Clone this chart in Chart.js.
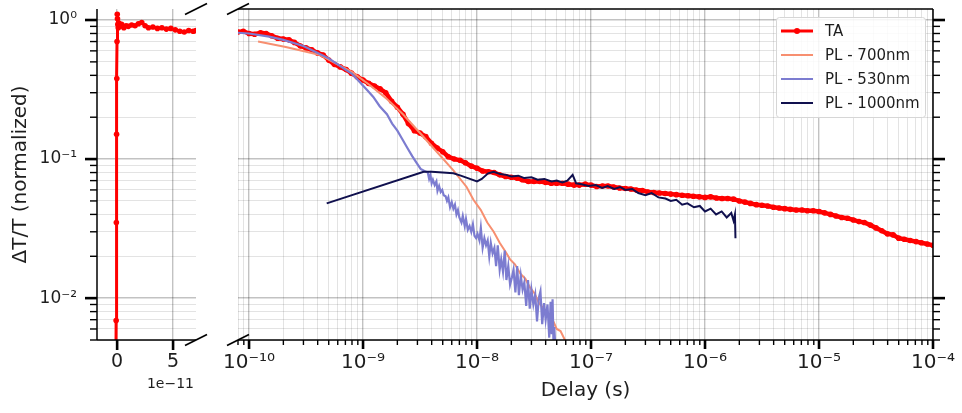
<!DOCTYPE html>
<html>
<head>
<meta charset="utf-8">
<script src="https://cdn.jsdelivr.net/npm/chart.js@4.4.1/dist/chart.umd.min.js"></script>
<style>
  html, body { margin: 0; padding: 0; background: #fff; }
  #wrap { position: relative; width: 962px; height: 413px; }
  #wrap canvas { position: absolute; left: 0; top: 0; }
</style>
</head>
<body>
<div id="wrap">
  <canvas id="chart-left" width="962" height="413"></canvas>
  <canvas id="chart-right" width="962" height="413"></canvas>
</div>
<script>
// Broken-axis plot: short linear window around t=0 on the left, log delay axis on the right.

// --- data (seconds, normalized dT/T) ---
const taZoomX = [-1.2e-12, -0.9e-12, -0.7e-12, -0.5e-12, -0.3e-12, -0.1e-12, 0.1e-12, 0.3e-12, 0.6e-12,
  1.0e-12, 1.5e-12, 2.5e-12, 4e-12, 6e-12, 8e-12, 1.0e-11, 1.3e-11, 1.6e-11, 1.9e-11, 2.2e-11, 2.5e-11,
  2.8e-11, 3.2e-11, 3.6e-11, 4.0e-11, 4.4e-11, 4.8e-11, 5.2e-11, 5.6e-11, 6.0e-11, 6.4e-11, 6.8e-11, 7.05e-11];
const taZoomY = [0.002, 0.0069, 0.035, 0.151, 0.38, 0.70, 1.10, 1.02, 0.93,
  0.88, 0.95, 0.90, 0.93, 0.88, 0.91, 0.90, 0.92, 0.91, 0.94, 0.96, 0.91,
  0.88, 0.89, 0.87, 0.88, 0.86, 0.87, 0.85, 0.83, 0.82, 0.84, 0.83, 0.84];

const taX = [8.0e-11, 8.9e-11, 1.0e-10, 1.12e-10, 1.26e-10, 1.41e-10, 1.58e-10, 1.78e-10, 2.0e-10, 2.24e-10,
  2.5e-10, 2.82e-10, 3.16e-10, 3.55e-10, 3.98e-10, 4.47e-10, 5.0e-10, 5.6e-10, 6.3e-10, 7.1e-10,
  7.9e-10, 8.9e-10, 1.0e-9, 1.12e-9, 1.26e-9, 1.41e-9, 1.58e-9, 1.78e-9, 2.0e-9, 2.24e-9,
  2.5e-9, 2.82e-9, 3.16e-9, 3.55e-9, 3.98e-9, 4.47e-9, 5.0e-9, 5.6e-9, 6.3e-9, 7.1e-9,
  7.9e-9, 8.9e-9, 1.0e-8, 1.12e-8, 1.26e-8, 1.41e-8, 1.58e-8, 1.78e-8, 2.0e-8, 2.24e-8,
  2.5e-8, 2.82e-8, 3.16e-8, 3.55e-8, 3.98e-8, 4.47e-8, 5.0e-8, 5.6e-8, 6.3e-8, 7.1e-8,
  7.9e-8, 8.9e-8, 1.0e-7, 1.12e-7, 1.26e-7, 1.41e-7, 1.58e-7, 1.78e-7, 2.0e-7, 2.24e-7,
  2.5e-7, 2.82e-7, 3.16e-7, 3.55e-7, 3.98e-7, 4.47e-7, 5.0e-7, 5.6e-7, 6.3e-7, 7.1e-7,
  7.9e-7, 8.9e-7, 1.0e-6, 1.12e-6, 1.26e-6, 1.41e-6, 1.58e-6, 1.78e-6, 2.0e-6, 2.24e-6,
  2.5e-6, 2.82e-6, 3.16e-6, 3.55e-6, 3.98e-6, 4.47e-6, 5.0e-6, 5.6e-6, 6.3e-6, 7.1e-6,
  7.9e-6, 8.9e-6, 1.0e-5, 1.12e-5, 1.26e-5, 1.41e-5, 1.58e-5, 1.78e-5, 2.0e-5, 2.24e-5,
  2.5e-5, 2.82e-5, 3.16e-5, 3.55e-5, 3.98e-5, 4.47e-5, 5.0e-5, 5.6e-5, 6.3e-5, 7.1e-5,
  7.9e-5, 8.9e-5, 1.0e-4];
const taY = [0.82, 0.83, 0.80, 0.79, 0.81, 0.80, 0.77, 0.74, 0.73, 0.72,
  0.69, 0.65, 0.63, 0.61, 0.58, 0.56, 0.515, 0.48, 0.46, 0.44,
  0.415, 0.39, 0.37, 0.35, 0.335, 0.32, 0.30, 0.26, 0.236, 0.21,
  0.18, 0.16, 0.154, 0.145, 0.13, 0.12, 0.113, 0.104, 0.10, 0.098,
  0.094, 0.089, 0.086, 0.082, 0.081, 0.080, 0.077, 0.075, 0.074, 0.073,
  0.071, 0.069, 0.069, 0.069, 0.068, 0.067, 0.067, 0.067, 0.066, 0.065,
  0.065, 0.066, 0.065, 0.0635, 0.064, 0.064, 0.063, 0.062, 0.0615, 0.061,
  0.060, 0.0595, 0.058, 0.0575, 0.057, 0.0565, 0.056, 0.0555, 0.055, 0.0545,
  0.054, 0.0535, 0.053, 0.0535, 0.0525, 0.052, 0.052, 0.0515, 0.050, 0.049,
  0.048, 0.047, 0.0465, 0.046, 0.045, 0.0445, 0.044, 0.0435, 0.043, 0.043,
  0.0425, 0.0425, 0.042, 0.041, 0.040, 0.039, 0.038, 0.0375, 0.0365, 0.0355,
  0.035, 0.0335, 0.032, 0.0305, 0.029, 0.0285, 0.027, 0.0265, 0.026, 0.0255,
  0.025, 0.0245, 0.024];

const pl700X = [1.2e-10, 2.1e-10, 4.2e-10, 8.1e-10, 1.15e-9, 1.62e-9, 2.24e-9, 3.16e-9, 4.47e-9, 6.2e-9,
  8.1e-9, 9.3e-9, 1.08e-8, 1.23e-8, 1.4e-8, 1.58e-8, 1.75e-8, 1.95e-8, 2.15e-8, 2.4e-8,
  2.65e-8, 2.9e-8, 3.2e-8, 3.5e-8, 3.8e-8, 4.2e-8, 4.6e-8, 5.0e-8, 5.4e-8, 5.9e-8, 6.5e-8];
const pl700Y = [0.70, 0.64, 0.56, 0.42, 0.34, 0.27, 0.21, 0.154, 0.112, 0.083,
  0.063, 0.051, 0.043, 0.035, 0.030, 0.025, 0.022, 0.019, 0.0175, 0.015,
  0.0138, 0.012, 0.0108, 0.0092, 0.0085, 0.0074, 0.0070, 0.0060, 0.0058, 0.0050, 0.0044];

const pl530X = [8.0e-11, 1.0e-10, 1.5e-10, 2.0e-10, 3.0e-10, 4.0e-10, 5.0e-10, 6.0e-10, 7.0e-10, 8.0e-10,
  9.3e-10, 1.1e-9, 1.23e-9, 1.4e-9, 1.62e-9, 1.8e-9, 2.0e-9, 2.2e-9, 2.45e-9, 2.7e-9,
  2.95e-9, 3.2e-9, 3.45e-9, 3.7e-9, 3.8e-9, 3.9e-9, 4.0e-9, 4.1e-9, 4.25e-9, 4.4e-9,
  4.5e-9, 4.65e-9, 4.8e-9, 4.95e-9, 5.1e-9, 5.3e-9, 5.45e-9, 5.6e-9, 5.8e-9, 6.0e-9,
  6.2e-9, 6.4e-9, 6.6e-9, 6.8e-9, 7.0e-9, 7.3e-9, 7.5e-9, 7.8e-9, 8.0e-9, 8.3e-9,
  8.6e-9, 8.9e-9, 9.2e-9, 9.5e-9, 9.8e-9, 1.01e-8, 1.05e-8, 1.08e-8, 1.12e-8, 1.16e-8,
  1.2e-8, 1.24e-8, 1.28e-8, 1.32e-8, 1.37e-8, 1.42e-8, 1.47e-8, 1.52e-8, 1.58e-8, 1.63e-8,
  1.69e-8, 1.75e-8, 1.81e-8, 1.88e-8, 1.95e-8, 2.02e-8, 2.09e-8, 2.17e-8, 2.25e-8, 2.33e-8,
  2.42e-8, 2.51e-8, 2.6e-8, 2.7e-8, 2.8e-8, 2.9e-8, 3.0e-8, 3.12e-8, 3.24e-8, 3.36e-8,
  3.48e-8, 3.6e-8, 3.73e-8, 3.87e-8, 4.0e-8, 4.15e-8, 4.3e-8, 4.42e-8, 4.52e-8, 4.6e-8,
  4.68e-8, 4.76e-8, 4.85e-8, 5.0e-8];
const pl530Y = [0.81, 0.80, 0.76, 0.72, 0.65, 0.58, 0.53, 0.48, 0.44, 0.41,
  0.36, 0.31, 0.28, 0.24, 0.21, 0.18, 0.16, 0.14, 0.12, 0.105,
  0.094, 0.085, 0.082,
  0.080, 0.072, 0.077, 0.067, 0.071, 0.065, 0.069, 0.059, 0.064, 0.058,
  0.060, 0.055, 0.054, 0.050, 0.053, 0.045, 0.049, 0.044, 0.047, 0.040,
  0.043, 0.038, 0.035, 0.039, 0.033, 0.037, 0.031, 0.033, 0.030, 0.034,
  0.028, 0.027, 0.029, 0.026, 0.032, 0.023, 0.027, 0.024, 0.026, 0.020,
  0.025, 0.021, 0.023, 0.017, 0.024, 0.016, 0.019, 0.0155, 0.022, 0.0135,
  0.017, 0.0125, 0.014, 0.016, 0.011, 0.017, 0.0105, 0.0145, 0.0115, 0.0130,
  0.0088, 0.0135, 0.0084, 0.0115, 0.0090, 0.0106, 0.0068, 0.0100, 0.0112, 0.0065,
  0.0092, 0.0070, 0.0090, 0.0052, 0.0094, 0.0055, 0.0098, 0.0049, 0.0062, 0.0046,
  0.0042];

const pl1000X = [4.8e-10, 3.4e-9, 4.0e-9, 5.0e-9, 6.2e-9, 7.2e-9, 8.3e-9, 1.0e-8, 1.1e-8, 1.25e-8,
  1.4e-8, 1.6e-8, 1.8e-8, 2.0e-8, 2.3e-8, 2.6e-8, 3.0e-8, 3.4e-8, 3.9e-8, 4.5e-8,
  5.0e-8, 5.6e-8, 6.2e-8, 6.9e-8, 7.4e-8, 8.3e-8, 9.5e-8, 1.1e-7, 1.25e-7, 1.4e-7,
  1.6e-7, 1.8e-7, 2.0e-7, 2.3e-7, 2.6e-7, 3.0e-7, 3.4e-7, 3.9e-7, 4.5e-7, 5.0e-7,
  5.6e-7, 6.3e-7, 7.0e-7, 8.0e-7, 9.0e-7, 1.0e-6, 1.12e-6, 1.25e-6, 1.4e-6, 1.55e-6,
  1.7e-6, 1.78e-6, 1.83e-6, 1.85e-6];
const pl1000Y = [0.048, 0.081, 0.081, 0.080, 0.079, 0.076, 0.073, 0.069, 0.072, 0.079,
  0.081, 0.078, 0.077, 0.075, 0.076, 0.073, 0.074, 0.071, 0.072, 0.069,
  0.070, 0.068, 0.070, 0.077, 0.067, 0.066, 0.064, 0.065, 0.062, 0.064,
  0.061, 0.063, 0.060, 0.061, 0.057, 0.055, 0.057, 0.053, 0.052, 0.050,
  0.051, 0.047, 0.048, 0.045, 0.046, 0.042, 0.044, 0.040, 0.042, 0.038,
  0.041, 0.036, 0.040, 0.027];

// --- axis ticks ---
const Y_MAJOR = [0.01, 0.1, 1];
const Y_LABELS = ["10\u207B\u00B2", "10\u207B\u00B9", "10\u2070"];
const Y_MINOR = [0.005, 0.006, 0.007, 0.008, 0.009, 0.02, 0.03, 0.04, 0.05, 0.06, 0.07, 0.08, 0.09,
  0.2, 0.3, 0.4, 0.5, 0.6, 0.7, 0.8, 0.9];
const X_MAJOR = [1e-10, 1e-9, 1e-8, 1e-7, 1e-6, 1e-5, 1e-4];
const X_LABELS = ["10\u207B\u00B9\u2070", "10\u207B\u2079", "10\u207B\u2078", "10\u207B\u2077",
  "10\u207B\u2076", "10\u207B\u2075", "10\u207B\u2074"];
const X_MINOR = [8e-11, 9e-11];
for (let d = -10; d <= -5; d++) {
  for (let m = 2; m <= 9; m++) X_MINOR.push(m * Math.pow(10, d));
}
const ZOOM_X_TICKS = [0, 5e-11];
const ZOOM_X_LABELS = ["0", "5"];

const COLORS = {
  ta: "#ff0000",
  pl700: "#f78f70",
  pl530: "#7c7cd0",
  pl1000: "#10104e",
};
const GRID_MAJOR = "rgba(0,0,0,0.24)";
const GRID_MINOR = "rgba(0,0,0,0.11)";
const TEXT = "#1e1e1e";

Chart.defaults.font.family = "'DejaVu Sans', sans-serif";
Chart.defaults.color = TEXT;

const pts = (xs, ys) => xs.map((x, i) => ({ x, y: ys[i] }));

function tickList(major, minor) {
  return major.map((v) => ({ value: v, major: true }))
    .concat(minor.map((v) => ({ value: v, major: false })))
    .sort((a, b) => a.value - b.value);
}

const gridOpts = {
  drawTicks: false,
  color: (c) => (c.tick && c.tick.major ? GRID_MAJOR : GRID_MINOR),
  lineWidth: (c) => (c.tick && c.tick.major ? 1.4 : 1),
};

function yScale(position, showLabels) {
  return {
    type: "logarithmic",
    position,
    min: 0.005,
    max: 1.2,
    afterBuildTicks: (s) => { s.ticks = tickList(Y_MAJOR, Y_MINOR); },
    ticks: {
      display: showLabels,
      autoSkip: false,
      padding: 20,
      font: { size: 17 },
      color: TEXT,
      callback: (v, i, t) => {
        const k = Y_MAJOR.indexOf(t[i].value);
        return k >= 0 ? Y_LABELS[k] : "";
      },
    },
    grid: gridOpts,
    border: { display: false },
  };
}

// spines, tick marks of two lengths, and the diagonal break marks
const axisDecor = {
  id: "axisDecor",
  afterDatasetsDraw(chart, args, opts) {
    const ctx = chart.ctx;
    const a = chart.chartArea;
    ctx.save();
    ctx.strokeStyle = "#000";
    ctx.lineCap = "butt";
    (opts.marks || []).forEach((m) => {
      const scale = chart.scales[m.scale];
      ctx.lineWidth = m.width;
      m.values.forEach((v) => {
        const p = scale.getPixelForValue(v);
        ctx.beginPath();
        if (m.side === "bottom") { ctx.moveTo(p, a.bottom); ctx.lineTo(p, a.bottom + m.len); }
        if (m.side === "left") { ctx.moveTo(a.left, p); ctx.lineTo(a.left - m.len, p); }
        if (m.side === "right") { ctx.moveTo(a.right, p); ctx.lineTo(a.right + m.len, p); }
        ctx.stroke();
      });
    });
    ctx.lineWidth = 1.5;
    (opts.spines || []).forEach((side) => {
      ctx.beginPath();
      if (side === "left") { ctx.moveTo(a.left, a.top); ctx.lineTo(a.left, a.bottom); }
      if (side === "right") { ctx.moveTo(a.right, a.top); ctx.lineTo(a.right, a.bottom); }
      if (side === "top") { ctx.moveTo(a.left, a.top); ctx.lineTo(a.right, a.top); }
      if (side === "bottom") { ctx.moveTo(a.left, a.bottom); ctx.lineTo(a.right, a.bottom); }
      ctx.stroke();
    });
    ctx.lineWidth = 1.8;
    const bx = opts.breakSide === "right" ? a.right : a.left;
    [a.top, a.bottom].forEach((y) => {
      ctx.beginPath();
      ctx.moveTo(bx - 11, y + 5.5);
      ctx.lineTo(bx + 11, y - 5.5);
      ctx.stroke();
    });
    if (opts.offsetText) {
      ctx.fillStyle = TEXT;
      ctx.font = "14px 'DejaVu Sans', sans-serif";
      ctx.textAlign = "right";
      ctx.textBaseline = "middle";
      ctx.fillText(opts.offsetText, a.right - 2, 384);
    }
    ctx.restore();
  },
};

// legend box in the upper right of the log panel
const boxLegend = {
  id: "boxLegend",
  afterDraw(chart) {
    const ctx = chart.ctx;
    const x0 = 776, y0 = 17, w = 149, h = 100;
    ctx.save();
    ctx.fillStyle = "rgba(255,255,255,0.85)";
    ctx.strokeStyle = "#d6d6d6";
    ctx.lineWidth = 1;
    ctx.beginPath();
    ctx.roundRect(x0 + 0.5, y0 + 0.5, w, h, 3);
    ctx.fill();
    ctx.stroke();
    ctx.font = "15px 'DejaVu Sans', sans-serif";
    ctx.textBaseline = "middle";
    ctx.textAlign = "left";
    chart.data.datasets.forEach((ds, i) => {
      const y = 31 + i * 24;
      ctx.strokeStyle = ds.borderColor;
      ctx.lineWidth = ds.pointRadius > 0 ? 3 : 2;
      ctx.beginPath();
      ctx.moveTo(781, y);
      ctx.lineTo(813, y);
      ctx.stroke();
      if (ds.pointRadius > 0) {
        ctx.fillStyle = ds.borderColor;
        ctx.beginPath();
        ctx.arc(797, y, 3, 0, Math.PI * 2);
        ctx.fill();
      }
      ctx.fillStyle = TEXT;
      ctx.fillText(ds.label, 825, y + 1);
    });
    ctx.restore();
  },
};

const baseOpts = {
  responsive: false,
  devicePixelRatio: 1,
  animation: false,
  events: [],
  plugins: { legend: { display: false }, tooltip: { enabled: false } },
};

new Chart(document.getElementById("chart-left"), {
  type: "line",
  data: {
    datasets: [{
      label: "TA",
      data: pts(taZoomX, taZoomY),
      borderColor: COLORS.ta,
      backgroundColor: COLORS.ta,
      borderWidth: 3,
      pointRadius: 2.8,
      pointBorderWidth: 0,
      tension: 0,
    }],
  },
  options: {
    ...baseOpts,
    layout: { padding: { left: 0, right: 766, top: 9, bottom: 0 } },
    scales: {
      x: {
        type: "linear",
        min: -1.8e-11,
        max: 7.05e-11,
        afterBuildTicks: (s) => { s.ticks = ZOOM_X_TICKS.map((v) => ({ value: v, major: true })); },
        afterFit: (s) => { s.height = 73; s.paddingLeft = 0; s.paddingRight = 0; },
        ticks: {
          autoSkip: false,
          maxRotation: 0,
          padding: 11,
          font: { size: 19 },
          color: TEXT,
          callback: (v, i) => ZOOM_X_LABELS[i],
        },
        grid: gridOpts,
        border: { display: false },
      },
      y: {
        ...yScale("left", true),
        afterFit: (s) => { s.width = 97; s.paddingTop = 0; s.paddingBottom = 0; },
        title: {
          display: true,
          text: "\u0394T/T (normalized)",
          font: { size: 20 },
          color: TEXT,
          padding: { top: 9, bottom: 0 },
        },
      },
    },
    plugins: {
      ...baseOpts.plugins,
      axisDecor: {
        spines: ["left", "bottom"],
        breakSide: "right",
        offsetText: "1e\u221211",
        marks: [
          { scale: "y", side: "left", values: Y_MAJOR, len: 12, width: 2.6 },
          { scale: "y", side: "left", values: Y_MINOR, len: 7, width: 1.4 },
          { scale: "x", side: "bottom", values: ZOOM_X_TICKS, len: 10, width: 2.6 },
        ],
      },
    },
  },
  plugins: [axisDecor],
});

new Chart(document.getElementById("chart-right"), {
  type: "line",
  data: {
    datasets: [
      { label: "TA", data: pts(taX, taY), borderColor: COLORS.ta, backgroundColor: COLORS.ta,
        borderWidth: 4.5, pointRadius: 2.8, pointBorderWidth: 0, order: 4 },
      { label: "PL - 700nm", data: pts(pl700X, pl700Y), borderColor: COLORS.pl700,
        borderWidth: 2, pointRadius: 0, order: 3 },
      { label: "PL - 530nm", data: pts(pl530X, pl530Y), borderColor: COLORS.pl530,
        borderWidth: 2.2, pointRadius: 0, order: 2 },
      { label: "PL - 1000nm", data: pts(pl1000X, pl1000Y), borderColor: COLORS.pl1000,
        borderWidth: 2, pointRadius: 0, order: 1 },
    ],
  },
  options: {
    ...baseOpts,
    layout: { padding: { left: 238, right: 0, top: 9, bottom: 0 } },
    scales: {
      x: {
        type: "logarithmic",
        min: 8e-11,
        max: 1e-4,
        afterBuildTicks: (s) => { s.ticks = tickList(X_MAJOR, X_MINOR); },
        afterFit: (s) => { s.height = 73; s.paddingLeft = 0; s.paddingRight = 0; },
        ticks: {
          autoSkip: false,
          maxRotation: 0,
          padding: 11,
          font: { size: 20 },
          color: TEXT,
          callback: (v, i, t) => {
            const k = X_MAJOR.indexOf(t[i].value);
            return k >= 0 ? X_LABELS[k] : "";
          },
        },
        grid: gridOpts,
        border: { display: false },
        title: {
          display: true,
          text: "Delay (s)",
          font: { size: 20 },
          color: TEXT,
          padding: { top: 0, bottom: 10 },
        },
      },
      y: {
        ...yScale("right", false),
        afterFit: (s) => { s.width = 29; s.paddingTop = 0; s.paddingBottom = 0; },
      },
    },
    plugins: {
      ...baseOpts.plugins,
      axisDecor: {
        spines: ["top", "right", "bottom"],
        breakSide: "left",
        marks: [
          { scale: "y", side: "right", values: Y_MAJOR, len: 12, width: 2.6 },
          { scale: "y", side: "right", values: Y_MINOR, len: 7, width: 1.4 },
          { scale: "x", side: "bottom", values: X_MAJOR, len: 9, width: 2.6 },
          { scale: "x", side: "bottom", values: X_MINOR, len: 5, width: 1.4 },
        ],
      },
    },
  },
  plugins: [axisDecor, boxLegend],
});
</script>
</body>
</html>
